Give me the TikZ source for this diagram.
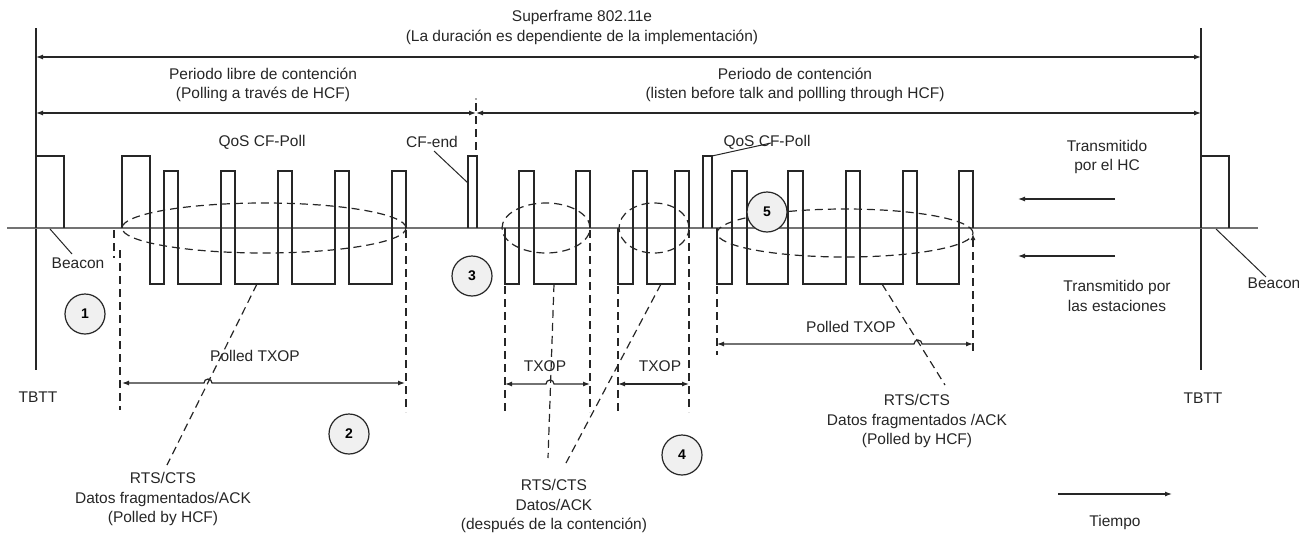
\documentclass[tikz,border=0pt]{standalone}
\usepackage{fontspec}
\setmainfont{Liberation Sans}
\usetikzlibrary{arrows.meta,calc}
\begin{document}
\begin{tikzpicture}[x=1pt,y=-1pt,
  lbl/.style={font=\fontsize{15.5}{19.5}\selectfont, align=center, inner sep=0pt, text=black!85},
  sig/.style={line width=1.2pt, draw=black!85},
  base/.style={line width=1.4pt, draw=black!55},
  dsh/.style={line width=1.2pt, draw=black!85, dash pattern=on 8pt off 5pt},
  arr/.style={line width=1.2pt, draw=black!85, -{Latex[length=7pt,width=5pt]}},
  darr/.style={line width=1.2pt, draw=black!85, {Latex[length=7pt,width=5pt]}-{Latex[length=7pt,width=5pt]}},
  num/.style={circle, draw=black!85, line width=1.2pt, fill=black!6, minimum size=40pt, inner sep=0pt, font=\fontsize{14}{14}\selectfont\bfseries},
  lead/.style={line width=1pt, draw=black!85}
]
\useasboundingbox (0,0) rectangle (1299,533);

% ---------- main frame lines ----------
\coordinate (tl) at (36,28);  \coordinate (bl) at (36,370);
\coordinate (tr) at (1201,28); \coordinate (br) at (1201,370);
\draw[sig] (tl) -- (bl);
\draw[sig] (tr) -- (br);
\coordinate (b0) at (7,228); \coordinate (b1) at (1258,228);
\draw[base] (b0) -- (b1);

% ---------- top labels and arrows ----------
\node[lbl] (sf) at (582,27.5) {Superframe 802.11e\\(La duración es dependiente de la implementación)};
\coordinate (sfa) at (36,57); \coordinate (sfb) at (1201,57);
\draw[darr] (sfa) -- (sfb);

\node[lbl] (cfp) at (263,85) {Periodo libre de contención\\(Polling a través de HCF)};
\node[lbl] (cp) at (795,85) {Periodo de contención\\(listen before talk and pollling through HCF)};
\coordinate (pa) at (36,113); \coordinate (pm) at (476,113); \coordinate (pb) at (1201,113);
\draw[darr] (pa) -- (pm);
\draw[darr] (pm) -- (pb);
\coordinate (dvt) at (476,103); \coordinate (dvb) at (476,157);
\fill[black!70] (476,99) circle (0.9pt);
\draw[dsh] (dvt) -- (dvb);

% ---------- beacons ----------
\draw[sig] (36,228) -- (36,156) -- (64,156) -- (64,228);
\draw[sig] (1201,228) -- (1201,156) -- (1229,156) -- (1229,228);
\node[lbl] (bea1) at (78,263) {Beacon};
\node[lbl] (bea2) at (1274,283) {Beacon};
\coordinate (l1a) at (50,229); \coordinate (l1b) at (72,254);
\draw[lead] (l1a) -- (l1b);
\coordinate (l2a) at (1216,229); \coordinate (l2b) at (1266,277);
\draw[lead] (l2a) -- (l2b);

% ---------- CF-end and QoS CF-Poll marks ----------
\draw[sig] (468,228) -- (468,156) -- (477,156) -- (477,228);
\draw[sig] (703,228) -- (703,156) -- (712,156) -- (712,228);
\node[lbl] (qos1) at (262,142) {QoS CF-Poll};
\node[lbl] (cfend) at (432,142) {CF-end};
\node[lbl] (qos2) at (767,142) {QoS CF-Poll};
\coordinate (cea) at (434,151); \coordinate (ceb) at (468,183);
\draw[lead] (cea) -- (ceb);
\coordinate (qa) at (712,156); \coordinate (qb) at (771,143);
\draw[lead] (qa) -- (qb);

% ---------- dashed ellipses ----------
\draw[dsh] (264,228) ellipse [x radius=142pt, y radius=25pt];
\draw[dsh] (546,228) ellipse [x radius=44pt, y radius=25pt];
\draw[dsh] (654,228) ellipse [x radius=35pt, y radius=25pt];
\draw[dsh] (845,233) ellipse [x radius=128pt, y radius=24pt];

% ---------- square waves ----------
\draw[sig] (122,228) -- (122,156) -- (150,156) -- (150,284) -- (164,284) -- (164,171) -- (178,171)
  -- (178,284) -- (221,284) -- (221,171) -- (235,171) -- (235,284) -- (278,284) -- (278,171)
  -- (292,171) -- (292,284) -- (335,284) -- (335,171) -- (349,171) -- (349,284) -- (392,284)
  -- (392,171) -- (406,171) -- (406,228);
\draw[sig] (505,228) -- (505,284) -- (519,284) -- (519,171) -- (534,171) -- (534,284) -- (576,284)
  -- (576,171) -- (590,171) -- (590,228);
\draw[sig] (618,228) -- (618,284) -- (633,284) -- (633,171) -- (647,171) -- (647,284) -- (675,284)
  -- (675,171) -- (689,171) -- (689,228);
\draw[sig] (717,228) -- (717,284) -- (732,284) -- (732,171) -- (747,171) -- (747,284) -- (788,284)
  -- (788,171) -- (803,171) -- (803,284) -- (846,284) -- (846,171) -- (860,171) -- (860,284)
  -- (903,284) -- (903,171) -- (917,171) -- (917,284) -- (959,284) -- (959,171) -- (973,171)
  -- (973,228);

% ---------- dashed vertical markers ----------
\draw[dsh] (114,230) -- (114,258);
\draw[dsh] (120,250) -- (120,410);
\draw[dsh] (406,230) -- (406,412);
\draw[dsh] (505,286) -- (505,412);
\draw[dsh] (590,230) -- (590,412);
\draw[dsh] (618,286) -- (618,412);
\draw[dsh] (689,230) -- (689,412);
\draw[dsh] (717,286) -- (717,355);
\draw[dsh, {Latex[length=6pt,width=5pt]}-] (973,234) -- (973,355);

% ---------- TXOP spans ----------
\node[lbl] (pt1) at (255,356) {Polled TXOP};
\coordinate (p1a) at (122,383); \coordinate (p1h) at (208,383); \coordinate (p1b) at (405,383);
\draw[darr] (p1a) -- ($(p1h)+(-4,0)$) arc[start angle=180, end angle=0, radius=4pt] -- (p1b);

\node[lbl] (tx1) at (545,366) {TXOP};
\coordinate (t1a) at (505,384); \coordinate (t1h) at (550,384); \coordinate (t1b) at (590,384);
\draw[darr] (t1a) -- ($(t1h)+(-4,0)$) arc[start angle=180, end angle=0, radius=4pt] -- (t1b);

\node[lbl] (tx2) at (660,366) {TXOP};
\coordinate (t2a) at (618,384); \coordinate (t2b) at (689,384);
\draw[darr] (t2a) -- (t2b);

\node[lbl] (pt2) at (851,327) {Polled TXOP};
\coordinate (p2a) at (717,344); \coordinate (p2h) at (918,344); \coordinate (p2b) at (973,344);
\draw[darr] (p2a) -- ($(p2h)+(-4,0)$) arc[start angle=180, end angle=0, radius=4pt] -- (p2b);

% ---------- dashed pointers ----------
\coordinate (d1a) at (257,284); \coordinate (d1b) at (167,465);
\draw[dsh] (d1a) -- (d1b);
\coordinate (d2a) at (554,284); \coordinate (d2b) at (548,458);
\draw[dsh] (d2a) -- (d2b);
\coordinate (d3a) at (661,284); \coordinate (d3b) at (566,463);
\draw[dsh] (d3a) -- (d3b);
\coordinate (d4a) at (882,284); \coordinate (d4b) at (945,385);
\draw[dsh] (d4a) -- (d4b);

% ---------- numbered circles ----------
\node[num] (n1) at (85,314) {1};
\node[num] (n2) at (349,434) {2};
\node[num] (n3) at (472,276) {3};
\node[num] (n4) at (682,455) {4};
\node[num] (n5) at (767,212) {5};

% ---------- bottom labels ----------
\node[lbl] (tb1) at (38,397) {TBTT};
\node[lbl] (tb2) at (1203,398) {TBTT};
\node[lbl] (rts1) at (163,499) {RTS/CTS\\Datos fragmentados/ACK\\(Polled by HCF)};
\node[lbl] (rts2) at (917,421) {RTS/CTS\\Datos fragmentados /ACK\\(Polled by HCF)};
\node[lbl] (rts3) at (554,506) {RTS/CTS\\Datos/ACK\\(después de la contención)};

% ---------- legend ----------
\node[lbl] (hc) at (1107,157) {Transmitido\\por el HC};
\node[lbl] (sta) at (1117,296) {Transmitido por\\las estaciones};
\coordinate (ha) at (1115,199); \coordinate (hb) at (1018,199);
\draw[arr] (ha) -- (hb);
\coordinate (sa) at (1115,256); \coordinate (sb) at (1018,256);
\draw[arr] (sa) -- (sb);
\coordinate (ta) at (1058,494); \coordinate (tb) at (1172,494);
\draw[arr] (ta) -- (tb);
\node[lbl] (tiempo) at (1115,522) {Tiempo};
\end{tikzpicture}
\end{document}
